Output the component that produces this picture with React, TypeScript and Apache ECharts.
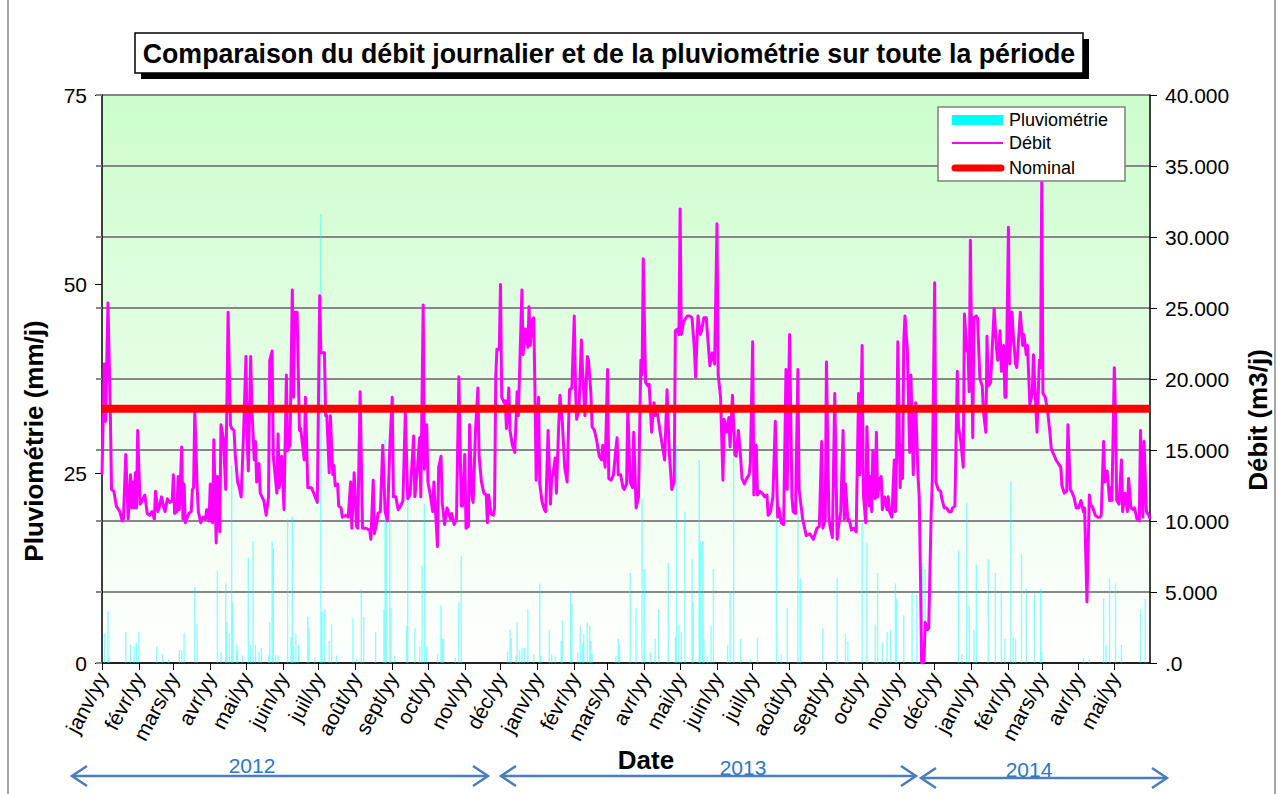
import React, { useEffect, useRef } from "react";
import * as echarts from "echarts";

// ---- Axis / calendar definitions ----
const START_UTC = Date.UTC(2012, 0, 1); // day index 0 = 1 Jan 2012
const DAY_COUNT = 882; // 1 Jan 2012 .. 31 May 2014
const MONTH_LABELS = ["janv", "févr", "mars", "avr", "mai", "juin", "juil", "août", "sept", "oct", "nov", "déc"];
const RAIN_MAX = 75;
const RAIN_STEP = 25;
const DEBIT_MAX = 40000;
const DEBIT_STEP = 5000;
const NOMINAL_M3 = 17900;

// ---- Débit (m3/j): [day index since 1 Jan 2012, value] ----
const debit2012: [number, number][] = [
  [0, 13260], [2, 21060], [3, 17030], [4, 21060], [5, 25350], [7, 17700], [8, 12220], [10, 12090], [12, 11050], [15, 10660],
  [17, 10010], [18, 10140], [20, 14690], [22, 10140], [24, 13260], [25, 10920], [26, 12740], [27, 10920], [28, 13390], [29, 10920],
  [30, 16380], [32, 11180], [33, 11310], [36, 11830], [38, 10530], [40, 10400], [42, 10660], [44, 10140], [45, 12090], [47, 10660],
  [48, 10920], [50, 11700], [52, 10920], [53, 10660], [55, 11570], [57, 11310], [59, 11440], [60, 13260], [61, 10530], [63, 10660],
  [64, 13130], [65, 10790], [67, 15210], [68, 10140], [69, 12610], [70, 9880], [73, 10530], [75, 10660], [76, 12220], [77, 12350],
  [78, 17810], [80, 12350], [81, 10660], [83, 9880], [85, 10270], [87, 10140], [88, 10790], [90, 10010], [91, 12610], [92, 10010],
  [93, 9880], [94, 15730], [96, 8450], [97, 13130], [99, 9230], [100, 16770], [102, 15860], [104, 12220], [106, 24700], [108, 16770],
  [109, 16510], [111, 16380], [112, 14690], [114, 12740], [115, 12480], [117, 11700], [119, 16120], [121, 21580], [122, 15990], [123, 13520],
  [125, 21580], [126, 17940], [128, 14300], [129, 15600], [130, 12740], [132, 14040], [133, 11960], [136, 11440], [138, 10400], [140, 11700],
  [141, 21320], [143, 21970], [144, 14560], [147, 11960], [148, 16120], [149, 12350], [151, 14560], [153, 10790], [155, 20280], [156, 14950],
  [158, 15340], [160, 26260], [161, 18720], [162, 24700], [164, 24700], [166, 16380], [167, 16510], [170, 14300], [171, 18720], [173, 12350],
  [176, 12350], [178, 11960], [181, 11310], [183, 25870], [184, 21840], [187, 21840], [188, 17420], [189, 17420], [191, 13390], [192, 17420],
  [194, 13260], [195, 13910], [196, 12480], [198, 12610], [199, 11050], [201, 10920], [202, 10270], [205, 10400], [207, 10270], [209, 12740],
  [210, 9490], [212, 13390], [214, 9620], [215, 9490], [217, 19110], [219, 9490], [222, 9490], [225, 9360], [226, 8710], [228, 12870],
  [229, 9100], [231, 9880], [232, 10530], [234, 10660], [236, 15340], [238, 10660], [240, 10010], [242, 15340], [244, 18720], [245, 11700],
  [247, 11700], [249, 10790], [251, 11050], [253, 11440], [255, 17680], [257, 11570], [259, 11830], [262, 15990], [263, 11700], [265, 13520],
  [267, 15860], [268, 11700], [270, 25220], [271, 13650], [273, 16770], [274, 12740], [276, 11830], [278, 10660], [279, 12740], [282, 8190],
  [283, 13780], [285, 14560], [286, 11310], [288, 9750], [290, 10920], [293, 10140], [294, 10530], [296, 9750], [298, 10140], [300, 20150],
  [302, 11050], [303, 11050], [305, 14690], [306, 9490], [308, 9620], [309, 16770], [311, 11700], [312, 11310], [314, 16380], [316, 19370],
  [317, 14560], [319, 12740], [321, 11960], [323, 11830], [324, 9880], [325, 11830], [327, 10530], [329, 10400], [330, 10920], [331, 20150],
  [332, 22100], [334, 22100], [335, 26650], [336, 18720], [338, 18330], [339, 18460], [340, 16510], [342, 19370], [343, 16380], [345, 15340],
  [347, 14820], [349, 19110], [350, 17420], [353, 26260], [354, 21710], [356, 23530], [358, 22230], [359, 25090], [360, 22360], [362, 24180],
  [363, 24310], [364, 18850], [365, 12870],
];

const debit2013: [number, number][] = [
  [367, 18720], [368, 12610], [370, 11310], [372, 10790], [373, 10660], [375, 16380], [377, 11180], [378, 13000], [379, 13260], [381, 14430],
  [382, 11960], [384, 16900], [385, 18850], [387, 16900], [389, 13780], [391, 12740], [393, 19240], [395, 19370], [397, 24440], [398, 19500],
  [399, 17160], [401, 17940], [403, 22750], [404, 20540], [406, 17420], [408, 21580], [409, 21320], [411, 19000], [412, 16640], [414, 16380],
  [416, 15600], [418, 14560], [420, 14300], [421, 15340], [423, 13780], [425, 20670], [426, 12990], [428, 12870], [430, 13260], [432, 15080],
  [433, 15860], [434, 13260], [436, 13260], [438, 12350], [439, 12220], [441, 12610], [442, 18070], [444, 12740], [446, 12350], [447, 16250],
  [449, 10920], [451, 11700], [453, 21320], [454, 20280], [455, 28470], [457, 19760], [459, 19500], [460, 19630], [462, 16250], [464, 18330],
  [465, 17420], [467, 17550], [469, 16380], [471, 15340], [473, 14300], [475, 19240], [477, 14690], [479, 12220], [481, 12740], [482, 23400],
  [484, 23530], [485, 23140], [486, 31980], [487, 23140], [489, 24050], [492, 24440], [494, 24440], [496, 24310], [498, 22100], [499, 20150],
  [501, 24440], [503, 23140], [504, 23400], [506, 24310], [508, 24310], [509, 23140], [511, 20930], [513, 21840], [515, 21060], [517, 30940],
  [518, 20280], [520, 18720], [522, 12870], [523, 17160], [525, 16250], [527, 17290], [528, 15210], [530, 18850], [532, 14690], [533, 14560],
  [535, 16380], [537, 14300], [538, 13000], [540, 12610], [542, 13000], [544, 13260], [545, 14040], [547, 22620], [548, 11830], [550, 15340],
  [551, 11830], [553, 12090], [555, 11960], [557, 11700], [559, 11830], [560, 10400], [562, 10660], [564, 11700], [566, 17030], [568, 10270],
  [569, 10920], [571, 9880], [573, 9750], [575, 20670], [576, 12220], [578, 23140], [580, 11700], [581, 10660], [583, 10530], [585, 20670],
  [586, 12220], [589, 10140], [592, 8970], [595, 9100], [598, 8710], [601, 9490], [603, 9620], [605, 15600], [606, 9490], [608, 10140],
  [609, 21190], [611, 10400], [612, 9620], [614, 8840], [616, 18980], [618, 8710], [619, 9490], [621, 10660], [623, 16380], [624, 10140],
  [625, 12610], [627, 10010], [628, 10140], [630, 9360], [632, 9490], [634, 9230], [636, 18980], [637, 13260], [639, 22360], [640, 11960],
  [642, 9880], [643, 16640], [645, 11050], [646, 13130], [647, 10660], [648, 14950], [650, 11570], [651, 16250], [652, 11700], [654, 13000],
  [655, 13130], [656, 10790], [658, 11700], [660, 10790], [661, 11700], [662, 10660], [664, 10270], [666, 14300], [667, 10660], [668, 14560],
  [669, 22620], [671, 12350], [672, 15340], [673, 13000], [674, 22620], [675, 24440], [677, 22100], [679, 14820], [680, 20280], [682, 13260],
  [683, 16900], [684, 18330], [686, 13130], [687, 11700], [688, 6500], [689, 0], [691, 130], [692, 2860], [694, 2340], [695, 2470],
  [697, 10400], [698, 12870], [700, 26780], [701, 12740], [703, 12220], [705, 12090], [706, 11570], [708, 10920], [710, 10920], [712, 10660],
  [714, 10660], [715, 10920], [717, 11050], [719, 20540], [720, 16640], [722, 15600], [724, 13780], [725, 24570], [727, 21970], [728, 22100],
  [729, 19110], [730, 29770],
];

const debit2014: [number, number][] = [
  [732, 15860], [733, 24310], [735, 24440], [736, 24310], [738, 20020], [740, 19500], [741, 17680], [743, 16250], [744, 23010], [745, 19500],
  [747, 19760], [750, 24960], [752, 22100], [753, 21320], [755, 23400], [756, 20540], [758, 22360], [759, 18720], [760, 18720], [762, 30680],
  [763, 21060], [765, 24700], [766, 23140], [768, 21060], [769, 20800], [772, 24700], [774, 22360], [775, 23140], [777, 21710], [778, 22360],
  [780, 18200], [782, 18980], [783, 21710], [786, 16250], [788, 21320], [789, 20800], [790, 34060], [791, 18980], [793, 18720], [795, 17680],
  [797, 16120], [798, 15080], [800, 14690], [802, 14300], [804, 14040], [806, 13780], [807, 12480], [809, 11960], [811, 12090], [812, 16770],
  [814, 12220], [815, 12090], [817, 11700], [819, 10920], [821, 10920], [823, 11440], [825, 10660], [826, 10920], [828, 4290], [830, 11830],
  [831, 11180], [833, 10920], [835, 10400], [837, 10270], [839, 10270], [840, 10400], [842, 15600], [843, 12740], [845, 13520], [847, 11440],
  [848, 12350], [849, 11440], [851, 20800], [852, 17420], [853, 11440], [855, 11180], [857, 14300], [858, 10660], [860, 11960], [862, 10660],
  [863, 13000], [865, 10920], [867, 10790], [868, 10920], [870, 10140], [872, 10010], [873, 16380], [875, 10270], [876, 15600], [878, 10660],
  [880, 10400], [881, 10140],
];

// ---- Pluviométrie (mm/j): [day index, value] ----
const pluie2012: [number, number][] = [
  [2, 3.9], [5, 6.8], [6, 0.8], [20, 4.1], [24, 2.4], [27, 2.2], [29, 2.7], [31, 4.1], [46, 2.2], [51, 1.2], [56, 0.5], [65, 1.7],
  [67, 1.7], [69, 3.9], [78, 10.0], [80, 5.1], [97, 12.2], [100, 1.5], [104, 10.5], [105, 5.4], [107, 3.9], [109, 26.1], [110, 8.0],
  [113, 2.4], [114, 1.7], [118, 1.0], [123, 13.9], [125, 2.4], [127, 16.1], [129, 2.4], [132, 1.5], [134, 2.0], [140, 1.0], [141, 5.4],
  [143, 16.1], [144, 15.1], [146, 1.0], [148, 1.0], [156, 19.0], [159, 3.4], [160, 19.3], [161, 2.2], [163, 3.9], [165, 2.4], [173, 6.1],
  [174, 4.6], [179, 0.7], [184, 59.3], [185, 6.8], [187, 7.1], [191, 2.9], [193, 5.1], [197, 1.0], [211, 5.9], [214, 0.5], [218, 9.8],
  [220, 6.1], [230, 4.1], [237, 7.1], [238, 29.5], [239, 19.0], [242, 18.8], [243, 7.3], [246, 1.0], [256, 4.9], [257, 21.5], [263, 4.6],
  [267, 2.2], [269, 12.9], [271, 21.0], [273, 2.2], [282, 1.2], [285, 7.6], [286, 3.2], [287, 3.2], [297, 0.7], [300, 8.0], [302, 14.1],
  [341, 1.5], [343, 4.4], [344, 3.2], [348, 1.0], [349, 5.4], [351, 1.7], [353, 2.0], [355, 2.0], [358, 7.1], [363, 1.2],
];

const pluie2013: [number, number][] = [
  [368, 10.5], [369, 1.0], [376, 4.4], [378, 1.2], [381, 1.0], [386, 2.9], [387, 5.6], [394, 9.5], [395, 7.8], [400, 1.5], [402, 4.9],
  [404, 2.7], [405, 3.9], [408, 5.4], [410, 4.9], [411, 2.9], [412, 1.2], [432, 1.0], [434, 3.2], [435, 2.4], [444, 11.9], [449, 7.3],
  [454, 21.7], [456, 12.4], [461, 1.5], [465, 3.2], [468, 7.1], [476, 13.2], [482, 3.4], [483, 28.8], [485, 5.1], [487, 4.1], [490, 20.0],
  [496, 13.7], [497, 8.0], [502, 26.8], [503, 16.1], [505, 16.1], [506, 3.2], [509, 1.0], [512, 4.9], [514, 12.4], [526, 2.4], [528, 9.5],
  [531, 28.8], [537, 3.2], [545, 0.5], [551, 3.4], [567, 19.0], [571, 1.2], [576, 7.3], [585, 20.0], [587, 11.2], [606, 4.6], [618, 11.2],
  [625, 3.9], [627, 2.9], [639, 18.5], [643, 15.9], [650, 5.1], [652, 11.9], [656, 2.7], [660, 4.1], [663, 4.4], [667, 10.5], [668, 8.5],
  [674, 6.3], [681, 9.3], [685, 9.0], [690, 13.2], [692, 12.4], [720, 14.9], [723, 1.2], [727, 21.2], [729, 7.6],
];

const pluie2014: [number, number][] = [
  [733, 4.4], [735, 13.0], [745, 13.7], [751, 11.9], [756, 9.3], [759, 3.2], [764, 23.9], [766, 3.4], [768, 3.2], [773, 14.4],
  [777, 9.8], [784, 9.3], [789, 9.8], [790, 1.5], [825, 0.7], [830, 0.5], [842, 8.5], [844, 2.4], [847, 11.2], [852, 10.5],
  [857, 2.4], [873, 7.1], [877, 8.5],
];

const YEAR_SPANS = [
  { label: "2012", x1: 72, x2: 488, y: 776, ty: 765, tx: 252 },
  { label: "2013", x1: 501, x2: 916, y: 776, ty: 767, tx: 743 },
  { label: "2014", x1: 921, x2: 1167, y: 778, ty: 769, tx: 1029 },
];

const FONT = '"Liberation Sans", Arial, Helvetica, sans-serif';
const ARROW_COLOR = "#4a7ebb";

function fmtDebit(v: number): string {
  if (v === 0) return ".0";
  const th = Math.floor(v / 1000);
  const rest = String(v % 1000).padStart(3, "0");
  return th + "." + rest;
}

export default function App() {
  const ref = useRef<HTMLDivElement>(null);

  useEffect(() => {
    const el = ref.current;
    if (!el) return;
    const chart = echarts.init(el, null, { renderer: "svg", width: 1278, height: 794 });

    const categories: string[] = [];
    for (let i = 0; i < DAY_COUNT; i++) {
      categories.push(new Date(START_UTC + i * 86400000).toISOString().slice(0, 10));
    }
    const isMonthStart = (_i: number, v: string) => v.slice(8, 10) === "01";

    const arrowGraphics: any[] = [];
    YEAR_SPANS.forEach((s) => {
      arrowGraphics.push({
        type: "line",
        shape: { x1: s.x1, y1: s.y, x2: s.x2, y2: s.y },
        style: { stroke: ARROW_COLOR, lineWidth: 2.5 },
      });
      arrowGraphics.push({
        type: "polyline",
        shape: { points: [[s.x1 + 15, s.y - 10], [s.x1, s.y], [s.x1 + 15, s.y + 10]] },
        style: { stroke: ARROW_COLOR, lineWidth: 2.5, fill: null },
      });
      arrowGraphics.push({
        type: "polyline",
        shape: { points: [[s.x2 - 15, s.y - 10], [s.x2, s.y], [s.x2 - 15, s.y + 10]] },
        style: { stroke: ARROW_COLOR, lineWidth: 2.5, fill: null },
      });
      arrowGraphics.push({
        type: "text",
        x: s.tx,
        y: s.ty,
        style: {
          text: s.label,
          fill: "#2a78c8",
          fontSize: 21,
          fontFamily: FONT,
          align: "center",
          verticalAlign: "middle",
          textAlign: "center",
          textVerticalAlign: "middle",
        },
      });
    });

    const option: any = {
      animation: false,
      backgroundColor: "#ffffff",
      grid: {
        left: 102,
        right: 128,
        top: 95,
        bottom: 131,
        show: true,
        borderWidth: 0,
        backgroundColor: new echarts.graphic.LinearGradient(0, 0, 0, 1, [
          { offset: 0, color: "#ccfdcc" },
          { offset: 1, color: "#ffffff" },
        ]),
      },
      xAxis: {
        type: "category",
        data: categories,
        boundaryGap: false,
        axisLine: { show: true, lineStyle: { color: "#000", width: 1.5 } },
        axisTick: { show: true, interval: isMonthStart, length: 7, lineStyle: { color: "#000", width: 1 } },
        axisLabel: {
          interval: isMonthStart,
          rotate: 62,
          margin: 11,
          fontSize: 21,
          fontFamily: FONT,
          color: "#000",
          formatter: (v: string) => MONTH_LABELS[parseInt(v.slice(5, 7), 10) - 1] + "/yy",
        },
        splitLine: { show: false },
      },
      yAxis: [
        {
          type: "value",
          min: 0,
          max: RAIN_MAX,
          interval: RAIN_STEP,
          position: "left",
          axisLine: { show: true, lineStyle: { color: "#000", width: 1.5 } },
          axisTick: { show: true, length: 7, lineStyle: { color: "#000" } },
          axisLabel: { fontSize: 21, fontFamily: FONT, color: "#000", margin: 15 },
          splitLine: { show: false },
        },
        {
          type: "value",
          min: 0,
          max: DEBIT_MAX,
          interval: DEBIT_STEP,
          position: "right",
          axisLine: { show: true, lineStyle: { color: "#000", width: 1.5 } },
          axisTick: { show: true, length: 7, lineStyle: { color: "#000" } },
          axisLabel: { fontSize: 21, fontFamily: FONT, color: "#000", margin: 15, formatter: fmtDebit },
          splitLine: { show: true, lineStyle: { color: "#878787", width: 2 } },
        },
        {
          type: "value",
          min: 0,
          max: DEBIT_MAX,
          interval: DEBIT_STEP,
          position: "left",
          axisLine: { show: false },
          axisTick: { show: true, length: 6, lineStyle: { color: "#878787", width: 2 } },
          axisLabel: { show: false },
          splitLine: { show: false },
        },
      ],
      series: [
        {
          name: "Pluviométrie",
          type: "bar",
          xAxisIndex: 0,
          yAxisIndex: 0,
          data: [...pluie2012, ...pluie2013, ...pluie2014],
          barWidth: 1.4,
          itemStyle: { color: "rgba(0,255,255,0.45)" },
          silent: true,
          z: 2,
        },
        {
          name: "Débit",
          type: "line",
          xAxisIndex: 0,
          yAxisIndex: 1,
          data: [...debit2012, ...debit2013, ...debit2014],
          symbol: "none",
          showSymbol: false,
          lineStyle: { color: "#ff00ff", width: 3, join: "round" },
          silent: true,
          z: 3,
        },
        {
          name: "Nominal",
          type: "line",
          xAxisIndex: 0,
          yAxisIndex: 1,
          data: [[0, NOMINAL_M3], [DAY_COUNT - 1, NOMINAL_M3]],
          symbol: "none",
          showSymbol: false,
          lineStyle: { color: "#ff0000", width: 8 },
          silent: true,
          z: 4,
        },
      ],
      graphic: [
        // chart-area border (left / right)
        { type: "line", shape: { x1: 8, y1: 0, x2: 8, y2: 794 }, style: { stroke: "#a6a6a6", lineWidth: 2 } },
        { type: "line", shape: { x1: 1275, y1: 0, x2: 1275, y2: 794 }, style: { stroke: "#a6a6a6", lineWidth: 2 } },
        // Title with shadow
        { type: "rect", shape: { x: 141, y: 39, width: 948, height: 40 }, style: { fill: "#000" }, z: 10 },
        { type: "rect", shape: { x: 135, y: 33, width: 948, height: 40 }, style: { fill: "#fff", stroke: "#000", lineWidth: 1.5 }, z: 11 },
        {
          type: "text",
          x: 609,
          y: 53,
          z: 12,
          scaleX: 0.955,
          style: {
            text: "Comparaison du débit journalier et de la pluviométrie sur toute la période",
            fill: "#000",
            fontSize: 28,
            fontWeight: "bold",
            fontFamily: FONT,
            align: "center",
            verticalAlign: "middle",
            textAlign: "center",
            textVerticalAlign: "middle",
          },
        },
        // Axis titles
        {
          type: "text",
          x: 34,
          y: 441,
          rotation: Math.PI / 2,
          style: {
            text: "Pluviométrie (mm/j)",
            fill: "#000",
            fontSize: 26,
            fontWeight: "bold",
            fontFamily: FONT,
            align: "center",
            verticalAlign: "middle",
            textAlign: "center",
            textVerticalAlign: "middle",
          },
        },
        {
          type: "text",
          x: 1258,
          y: 420,
          rotation: Math.PI / 2,
          style: {
            text: "Débit (m3/j)",
            fill: "#000",
            fontSize: 26,
            fontWeight: "bold",
            fontFamily: FONT,
            align: "center",
            verticalAlign: "middle",
            textAlign: "center",
            textVerticalAlign: "middle",
          },
        },
        {
          type: "text",
          x: 646,
          y: 760,
          style: {
            text: "Date",
            fill: "#000",
            fontSize: 26,
            fontWeight: "bold",
            fontFamily: FONT,
            align: "center",
            verticalAlign: "middle",
            textAlign: "center",
            textVerticalAlign: "middle",
          },
        },
        // Legend
        { type: "rect", z: 20, shape: { x: 938, y: 107, width: 187, height: 74 }, style: { fill: "#fff", stroke: "#808080", lineWidth: 1.5 } },
        { type: "rect", z: 21, shape: { x: 952, y: 115, width: 51, height: 10 }, style: { fill: "#00ffff" } },
        { type: "line", z: 21, shape: { x1: 952, y1: 143, x2: 1003, y2: 143 }, style: { stroke: "#ff00ff", lineWidth: 2 } },
        { type: "line", z: 21, shape: { x1: 955, y1: 168, x2: 1001, y2: 168 }, style: { stroke: "#ff0000", lineWidth: 7, lineCap: "round" } },
        {
          type: "text", z: 21, x: 1009, y: 120,
          style: { text: "Pluviométrie", fill: "#000", fontSize: 18, fontFamily: FONT, verticalAlign: "middle", textVerticalAlign: "middle" },
        },
        {
          type: "text", z: 21, x: 1009, y: 143,
          style: { text: "Débit", fill: "#000", fontSize: 18, fontFamily: FONT, verticalAlign: "middle", textVerticalAlign: "middle" },
        },
        {
          type: "text", z: 21, x: 1009, y: 168,
          style: { text: "Nominal", fill: "#000", fontSize: 18, fontFamily: FONT, verticalAlign: "middle", textVerticalAlign: "middle" },
        },
        ...arrowGraphics,
      ],
    };

    chart.setOption(option);
    return () => {
      chart.dispose();
    };
  }, []);

  return <div ref={ref} style={{ position: "absolute", left: 0, top: 0, width: 1278, height: 794 }} />;
}
